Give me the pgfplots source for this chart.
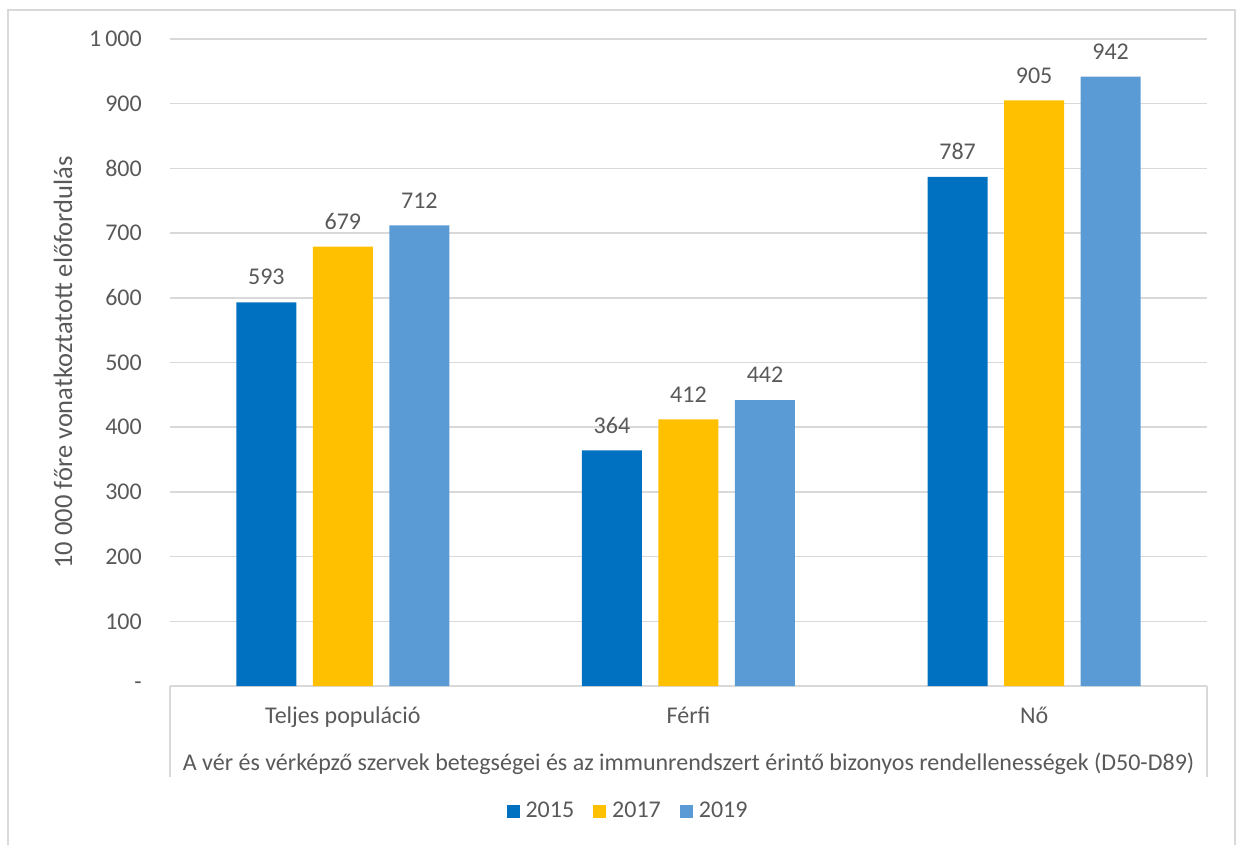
\documentclass[border=0pt]{standalone}
\usepackage{fontspec}
\setmainfont{Carlito}
\usepackage{pgfplots}
\pgfplotsset{compat=1.18}
\definecolor{c15}{HTML}{0070C0}
\definecolor{c17}{HTML}{FFC000}
\definecolor{c19}{HTML}{5B9BD5}
\definecolor{txt}{HTML}{595959}
\definecolor{grd}{HTML}{D9D9D9}
\begin{document}
\fontsize{24bp}{28bp}\selectfont
\begin{tikzpicture}
\useasboundingbox (0,0) rectangle (1236bp,-845bp);
\draw[grd, line width=1.5bp] (8bp,-850bp) -- (8bp,-10bp) -- (1235bp,-10bp) -- (1235bp,-850bp);
\begin{axis}[
 at={(170bp,-686bp)}, anchor=south west,
 scale only axis, width=1037bp, height=647bp,
 ybar=16.5bp, bar width=60bp,
 xmin=-0.5, xmax=2.5, ymin=0, ymax=1000,
 /pgf/number format/assume math mode=true,
 xtick={0,1,2}, xticklabels={Teljes populáció, Férfi, Nő},
 ytick={0,100,...,1000}, yticklabels={-,100,200,300,400,500,600,700,800,900,1\,000},
 major tick length=0,
 axis line style={draw=none},
 ymajorgrids, grid style={grd, line width=1.5bp},
 every tick label/.append style={text=txt, inner sep=0pt},
 yticklabel style={xshift=-28bp},
 xticklabel style={anchor=base, yshift=-37bp},
 ylabel={10 000 főre vonatkoztatott előfordulás},
 ylabel style={at={(axis description cs:0,0.5)}, anchor=base, yshift=98bp, text=txt,
   font=\fontsize{26.5bp}{30bp}\selectfont},
 nodes near coords,
 nodes near coords style={text=txt, inner sep=0pt, anchor=south, yshift=17bp},
 legend columns=3,
 legend style={at={(rel axis cs:0.4407,-0.1947)}, anchor=center, draw=none, fill=none,
   nodes={inner sep=0pt, text=txt},
   /tikz/every odd column/.append style={column sep=6bp},
   /tikz/every even column/.append style={column sep=19bp}},
 clip=false,
]
\addplot[fill=c15, draw=none, legend image code/.code={\fill[c15] (0bp,-6.5bp) rectangle (13bp,6.5bp);}]
  coordinates {(0,593) (1,364) (2,787)};
\addplot[fill=c17, draw=none, legend image code/.code={\fill[c17] (0bp,-6.5bp) rectangle (13bp,6.5bp);}]
  coordinates {(0,679) (1,412) (2,905)};
\addplot[fill=c19, draw=none, legend image code/.code={\fill[c19] (0bp,-6.5bp) rectangle (13bp,6.5bp);}]
  coordinates {(0,712) (1,442) (2,942)};
\legend{2015,2017,2019}
\node[text=txt, anchor=base] at (rel axis cs:0.5,0) [yshift=-84bp] {A vér és vérképző szervek betegségei és az immunrendszert érintő bizonyos rendellenességek (D50-D89)};
\end{axis}
\draw[grd, line width=1.5bp] (170bp,-686bp) -- (170bp,-777bp);
\draw[grd, line width=1.5bp] (1207bp,-686bp) -- (1207bp,-777bp);
\end{tikzpicture}
\end{document}
